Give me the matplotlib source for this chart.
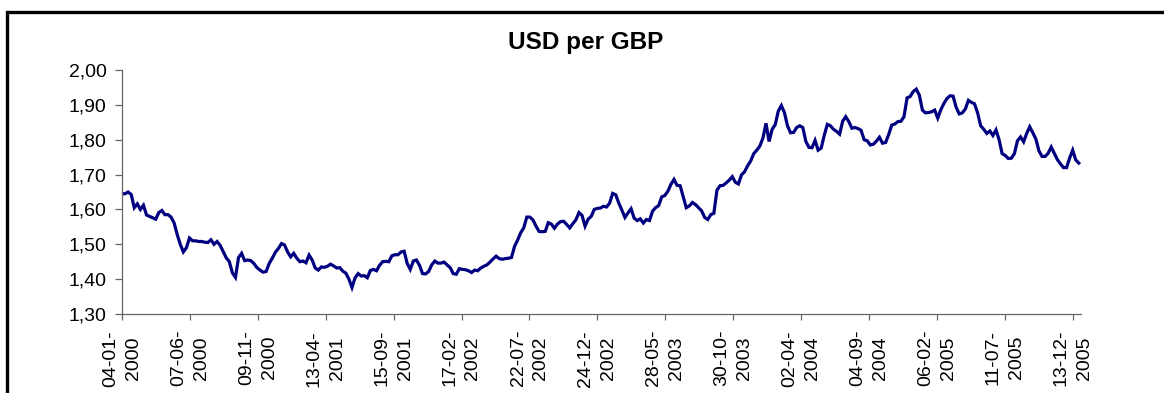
import matplotlib
matplotlib.use("Agg")
import matplotlib.pyplot as plt
import matplotlib.patches as mpatches
from matplotlib.ticker import FuncFormatter
import pandas as pd

plt.rcParams["font.family"] = ["Liberation Sans", "DejaVu Sans"]

# Weekly USD/GBP rate, starting Tuesday 4 January 2000
start_date = "2000-01-04"
usd_per_gbp = [
    1.645, 1.645, 1.650, 1.643, 1.605, 1.616, 1.600, 1.612, 1.584, 1.580,
    1.576, 1.572, 1.591, 1.597, 1.585, 1.585, 1.578, 1.561, 1.528, 1.500,
    1.478, 1.490, 1.518, 1.510, 1.510, 1.508, 1.508, 1.506, 1.505, 1.513,
    1.500, 1.508, 1.497, 1.479, 1.461, 1.450, 1.418, 1.405, 1.462, 1.474,
    1.453, 1.455, 1.453, 1.445, 1.433, 1.426, 1.420, 1.422, 1.445, 1.460,
    1.477, 1.488, 1.502, 1.498, 1.478, 1.464, 1.474, 1.460, 1.450, 1.452,
    1.447, 1.469, 1.455, 1.432, 1.426, 1.435, 1.434, 1.437, 1.443, 1.438,
    1.432, 1.433, 1.423, 1.417, 1.400, 1.376, 1.404, 1.416, 1.409, 1.410,
    1.404, 1.425, 1.428, 1.424, 1.440, 1.450, 1.451, 1.450, 1.467, 1.470,
    1.470, 1.478, 1.480, 1.445, 1.428, 1.452, 1.455, 1.440, 1.416, 1.415,
    1.422, 1.441, 1.452, 1.446, 1.446, 1.449, 1.441, 1.433, 1.416, 1.414,
    1.430, 1.428, 1.427, 1.424, 1.419, 1.426, 1.424, 1.432, 1.437, 1.441,
    1.449, 1.458, 1.466, 1.459, 1.457, 1.459, 1.460, 1.462, 1.494, 1.512,
    1.533, 1.547, 1.578, 1.578, 1.570, 1.552, 1.537, 1.536, 1.537, 1.562,
    1.558, 1.546, 1.558, 1.565, 1.566, 1.557, 1.547, 1.559, 1.570, 1.591,
    1.583, 1.552, 1.572, 1.580, 1.600, 1.603, 1.604, 1.609, 1.607, 1.618,
    1.646, 1.642, 1.618, 1.598, 1.577, 1.590, 1.602, 1.575, 1.568, 1.573,
    1.561, 1.571, 1.568, 1.595, 1.605, 1.611, 1.636, 1.640, 1.652, 1.672,
    1.686, 1.669, 1.668, 1.637, 1.605, 1.610, 1.620, 1.614, 1.605, 1.596,
    1.577, 1.571, 1.585, 1.589, 1.655, 1.668, 1.669, 1.676, 1.684, 1.694,
    1.678, 1.673, 1.699, 1.708, 1.725, 1.739, 1.760, 1.770, 1.782, 1.805,
    1.847, 1.795, 1.830, 1.843, 1.882, 1.898, 1.878, 1.840, 1.820, 1.821,
    1.835, 1.840, 1.835, 1.795, 1.778, 1.777, 1.798, 1.770, 1.776, 1.813,
    1.844, 1.840, 1.830, 1.824, 1.816, 1.853, 1.866, 1.852, 1.833, 1.835,
    1.832, 1.827, 1.800, 1.797, 1.785, 1.787, 1.796, 1.807, 1.790, 1.792,
    1.815, 1.842, 1.845, 1.852, 1.853, 1.866, 1.920, 1.924, 1.938, 1.945,
    1.928, 1.885, 1.877, 1.878, 1.880, 1.885, 1.862, 1.886, 1.904, 1.918,
    1.926, 1.925, 1.893, 1.874, 1.877, 1.888, 1.913, 1.907, 1.903, 1.877,
    1.840, 1.830, 1.818, 1.825, 1.812, 1.828, 1.800, 1.760, 1.755, 1.746,
    1.747, 1.760, 1.797, 1.808, 1.794, 1.818, 1.837, 1.820, 1.802, 1.768,
    1.752, 1.752, 1.761, 1.779, 1.761, 1.743, 1.731, 1.720, 1.720, 1.747,
    1.770, 1.742, 1.733,
]
tick_count = 15
tick_step_days = 155
axis_span_days = 2189
y_ticks = [1.30, 1.40, 1.50, 1.60, 1.70, 1.80, 1.90, 2.00]
title = "USD per GBP"

dates = pd.date_range(start_date, periods=len(usd_per_gbp), freq="7D")
tick_dates = pd.date_range(start_date, periods=tick_count, freq=f"{tick_step_days}D")
tick_labels = [d.strftime("%d-%m-\n%Y") for d in tick_dates]

W, H = 1164, 393
fig = plt.figure(figsize=(W / 100, H / 100), dpi=100)

# chart-area frame (only its top and left edges fall inside the canvas)
frame = mpatches.Rectangle((6.5 / W, -0.2), 1.5, 0.2 + (H - 11.5) / H,
                           transform=fig.transFigure, fill=False,
                           edgecolor="black", linewidth=2.4)
fig.add_artist(frame)

ax = fig.add_axes([122 / W, (H - 314) / H, (1081 - 122) / W, (314 - 70) / H])
ax.plot(dates, usd_per_gbp, color="#000080", linewidth=2.3, solid_joinstyle="miter")

ax.set_ylim(y_ticks[0], y_ticks[-1])
ax.set_yticks(y_ticks)
ax.yaxis.set_major_formatter(FuncFormatter(lambda v, _: f"{v:.2f}".replace(".", ",")))
ax.set_xlim(tick_dates[0], tick_dates[0] + pd.Timedelta(days=axis_span_days))
ax.set_xticks(tick_dates)
ax.set_xticklabels(tick_labels, rotation=90, multialignment="center",
                   linespacing=1.45, va="top", ha="center")

for side in ("top", "right"):
    ax.spines[side].set_visible(False)
for side in ("left", "bottom"):
    ax.spines[side].set_color("#666666")
    ax.spines[side].set_linewidth(0.9)

ax.tick_params(axis="y", direction="out", length=5, width=0.9, color="#666666",
               labelsize=14, pad=6, labelcolor="black")
ax.tick_params(axis="x", direction="out", length=4.5, width=0.9, color="#666666",
               labelsize=14, pad=7, labelcolor="black")

fig.text(586 / W, 1 - 49 / H, title, ha="center", va="baseline",
         fontsize=17.5, fontweight="bold")

fig.savefig("out.png", dpi=100)
